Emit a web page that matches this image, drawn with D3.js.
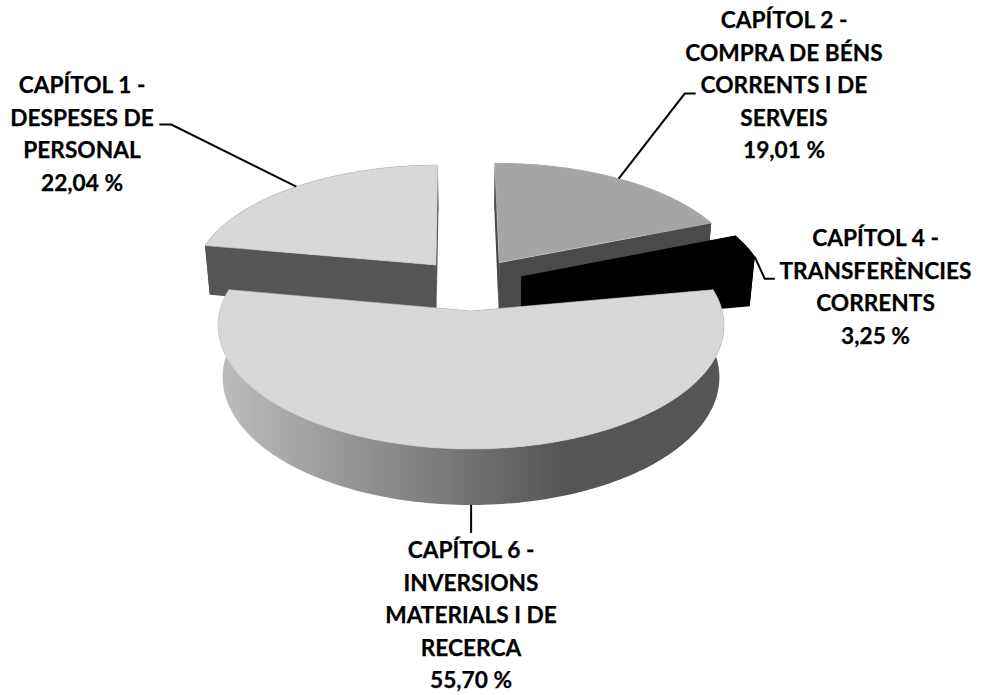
<!DOCTYPE html>
<html>
<head>
<meta charset="utf-8">
<script src="https://cdnjs.cloudflare.com/ajax/libs/d3/7.8.5/d3.min.js"></script>
<style>
  html, body { margin: 0; background: #fff; }
  text { font-family: Lato, sans-serif; font-weight: 700; font-size: 22.7px; fill: #000; stroke: #000; stroke-width: 0.25px; text-anchor: middle; }
</style>
</head>
<body>
<svg id="chart" width="981" height="695"></svg>
<script>
const values = [22.04, 19.01, 3.25, 55.70]
const titles = [
  ['CAPÍTOL 1 -', 'DESPESES DE', 'PERSONAL'],
  ['CAPÍTOL 2 -', 'COMPRA DE BÉNS', 'CORRENTS I DE', 'SERVEIS'],
  ['CAPÍTOL 4 -', 'TRANSFERÈNCIES', 'CORRENTS'],
  ['CAPÍTOL 6 -', 'INVERSIONS', 'MATERIALS I DE', 'RECERCA']
]
const pctLabels = ['22,04 %', '19,01 %', '3,25 %', '55,70 %']

// look of each slice, same order as values
const topColor = ['#d8d8d8', '#a5a5a5', '#000000', '#d8d8d8']
const wallColor = ['#555555', '#4a4a4a', '#000000', 'url(#frontWall)']
// explosion of each slice on the pie plane
const explode = [[-0.142, -0.2152], [0.122, -0.2357], [0.212, -0.111], [0.004, 0.18]]
// leader line: offset to the elbow and length of the flat end
const leader = [[-125, -62, -12], [66, -85, 11], [10, 22, 10], [0, 28, 0]]
const labelPos = [[82, 93], [784, 28], [875.5, 246], [471, 558]]
const lineStep = 32.5

// perspective of the pie plane
const cx = 470, cy = 289.5, ax = 246, ay = 116.8, persp = 0.115
const thick = 50.7, thickPersp = 0.08, baseShrink = 0.982

function project (u, v, bottom) {
  const s = 1 / (1 - persp * v)
  const x = ax * u * s
  const y = ay * v * s
  return bottom
    ? [cx + x * baseShrink, cy + y + thick / (1 - thickPersp * v)]
    : [cx + x, cy + y]
}

const svg = d3.select('#chart')
const line = d3.line()

const grad = svg.append('defs').append('linearGradient')
  .attr('id', 'frontWall')
  .attr('gradientUnits', 'userSpaceOnUse')
  .attr('x1', 222).attr('x2', 565).attr('y1', 0).attr('y2', 0)
grad.append('stop').attr('offset', 0).attr('stop-color', '#bcbcbc')
grad.append('stop').attr('offset', 1).attr('stop-color', '#555555')

// first slice starts just above the left end of the pie
const rotation = -79.74 * Math.PI / 180
const pie = d3.pie().sort(null).startAngle(rotation).endAngle(rotation + 2 * Math.PI)
const arcs = pie(values)

arcs.forEach(function (d, i) {
  const [ou, ov] = explode[i]
  const rimAngles = d3.range(d.startAngle, d.endAngle, 0.02).concat(d.endAngle)
  const onRim = (a, bottom) => project(ou + Math.sin(a), ov - Math.cos(a), bottom)
  const apex = (bottom) => project(ou, ov, bottom)
  const topRim = rimAngles.map((a) => onRim(a, false))
  const baseRim = rimAngles.map((a) => onRim(a, true))

  const g = svg.append('g')
  // two flat cut faces, then the curved outer wall
  ;[d.startAngle, d.endAngle].forEach(function (a) {
    g.append('path')
      .attr('fill', i === 3 ? '#555555' : wallColor[i])
      .attr('d', line([apex(false), onRim(a, false), onRim(a, true), apex(true)]) + 'Z')
  })
  g.append('path')
    .attr('fill', wallColor[i])
    .attr('d', line(topRim.concat(baseRim.slice().reverse())) + 'Z')
  g.append('path')
    .attr('fill', topColor[i])
    .attr('stroke', i === 2 ? '#000' : '#c4c4c4')
    .attr('stroke-width', 0.6)
    .attr('d', line([apex(false)].concat(topRim)) + 'Z')
})

// leader lines start on the rim at the middle of the slice
arcs.forEach(function (d, i) {
  const mid = (d.startAngle + d.endAngle) / 2
  const [ou, ov] = explode[i]
  let start = project(ou + Math.sin(mid), ov - Math.cos(mid), false)
  if (i === 3) start = project(ou + Math.sin(mid), ov - Math.cos(mid), true)
  if (i === 2) start = project(ou + Math.sin(d.endAngle), ov - Math.cos(d.endAngle), false)
  const [dx, dy, flat] = leader[i]
  const elbow = [start[0] + dx, start[1] + dy]
  svg.append('path')
    .attr('fill', 'none')
    .attr('stroke', '#000')
    .attr('stroke-width', 2)
    .attr('d', line([start, elbow, [elbow[0] + flat, elbow[1]]]))
})

titles.forEach(function (rows, i) {
  const t = svg.append('text')
    .attr('x', labelPos[i][0])
    .attr('y', labelPos[i][1])
  rows.concat(pctLabels[i]).forEach(function (row, r) {
    t.append('tspan')
      .attr('x', labelPos[i][0])
      .attr('y', labelPos[i][1] + r * lineStep)
      .text(row)
  })
})
</script>
</body>
</html>
